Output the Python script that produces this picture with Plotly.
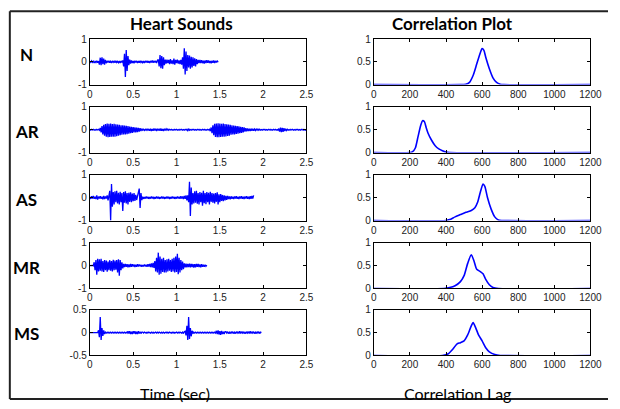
import plotly.graph_objects as go

W, H = 620, 409
DT = 0.01  # sample spacing (s) of the hand-read waveform values

row_labels = ["N", "AR", "AS", "MR", "MS"]

N_wave = [.01,-.03,.04,-.02,.03,-.05,.02,-.03,.05,-.04,.03,
          -.12,.18,-.15,.2,-.1,.14,-.12,.08,-.06,
          .04,-.03,.05,-.04,.02,-.05,.04,-.02,.03,-.04,.05,-.03,.02,-.04,.03,-.05,.04,-.03,.06,
          -.2,.35,-.67,.52,-.4,.25,-.15,
          .1,-.08,.06,-.05,.04,-.06,.05,-.03,.04,-.05,.03,-.04,.05,-.03,.02,-.04,.03,-.05,.04,-.03,
          .05,-.04,.03,-.05,.04,-.03,.06,-.04,.05,-.03,.04,-.05,.06,
          .1,-.2,.3,-.28,.25,-.3,.2,-.15,.1,
          -.08,.1,-.06,.08,-.1,.12,-.08,.06,-.1,.14,-.12,.08,-.06,.1,-.08,.06,-.1,.08,-.12,
          .2,-.3,.59,-.56,.45,-.4,.3,
          -.25,.28,-.3,.22,-.25,.2,-.18,.15,-.2,.12,-.1,.08,
          -.06,.08,-.05,.07,-.06,.05,-.08,.06,-.05,.07,-.04,.06,-.05,.04,-.06,.05,-.04,.06,-.05,.04,-.03,.05,-.02]

AR_wave = [.01,-.02,.02,-.01,.02,-.02,.01,-.02,.02,-.01,.02,-.02,
           .08,-.12,.16,-.2,.22,-.26,.25,
           -.3,.27,-.33,.26,-.32,.27,-.31,.25,-.3,.26,-.3,.24,-.28,.23,
           -.26,.22,-.24,.2,-.22,.2,-.21,.18,-.2,.17,-.19,.16,-.17,
           .14,-.15,.13,-.14,.12,-.12,.1,-.11,.09,-.1,.08,-.08,.07,-.06,.05,
           -.02,.02,-.03,.02,-.02,.03,-.02,.02,
           -.04,.04,-.05,.03,-.04,.05,-.03,.04,-.05,.04,-.03,.04,-.04,.05,-.04,.03,-.05,.04,-.03,.04,-.02,.03,
           -.02,.02,-.01,.02,-.02,.01,-.02,.02,-.01,.02,-.02,.01,-.02,.02,-.01,.02,-.02,.01,-.02,.02,
           -.01,.02,-.06,.05,-.02,.01,-.02,.02,-.01,.02,-.02,.01,-.02,.02,-.01,.02,-.02,.01,-.02,.02,
           -.01,.02,-.02,.01,-.02,.02,-.01,.02,
           -.06,.1,-.15,.2,-.24,.26,
           -.32,.27,-.33,.28,-.33,.27,-.32,.26,-.31,.27,-.3,.25,-.29,.24,-.27,.23,-.26,.22,
           -.22,.2,-.21,.18,-.2,.17,-.18,.16,-.17,.15,-.15,.13,-.14,.12,-.12,.1,
           -.08,.07,-.07,.06,-.06,.05,-.05,.05,-.04,.04,-.04,.03,-.03,.03,-.02,.03,-.02,
           .02,-.02,.01,-.02,.02,-.01,.02,-.02,.01,-.02,.02,-.01,.02,-.02,.01,-.02,.02,-.01,.02,-.02,.01,-.02,
           .05,-.08,.09,-.1,.08,-.09,.07,-.06,.04,-.03,
           .02,-.02,.01,-.02,.02,-.01,.02,-.02,.01,-.02,.02,-.01,.02,-.02,.01,-.02,.02,-.01,.02,-.02,.01,-.02,.01]

AS_wave = [.03,-.05,.06,-.04,.08,-.05,.04,-.06,.1,-.08,.05,-.04,.06,-.05,.04,-.07,.08,-.06,.05,-.04,.1,-.12,.08,
           .3,-1.0,.6,-.4,
           .25,-.3,.28,-.2,.3,-.25,.22,-.3,.26,-.2,.2,-.58,.25,-.22,.28,-.25,.2,-.3,.22,-.18,.24,-.2,.18,-.15,.2,-.14,.12,-.1,.08,
           .1,.4,-.45,.2,-.1,
           .04,-.05,.03,-.04,.05,-.03,.04,-.05,.03,-.04,.05,-.03,.04,-.06,.03,-.04,.05,-.03,.04,-.05,
           .03,-.04,.05,-.03,.04,-.05,.03,-.04,.05,-.03,.04,-.06,.03,-.04,.05,-.03,.04,-.05,.03,-.04,
           .05,-.03,.04,-.05,.06,-.04,.05,-.06,.08,-.05,.1,-.12,
           .1,-.2,.7,-.8,.45,-.3,.2,
           -.25,.28,-.22,.3,-.26,.2,-.3,.25,-.2,.22,-.35,.3,-.24,.2,-.28,.25,-.2,.22,-.3,.26,
           -.18,.2,-.22,.18,-.25,.2,-.18,.24,-.3,.15,-.2,.16,-.14,.12,-.15,.1,-.12,.08,-.1,
           .08,-.06,.05,-.07,.06,-.05,.04,-.06,.05,-.04,.06,-.05,.04,-.06,.05,-.04,.06,-.05,.04,-.06,
           .05,-.04,.06,-.05,.04,-.06,.07,-.05,.08,-.04,.1]

MR_wave = [0,.01,-.01,.01,-.01,
           .15,-.2,.25,-.4,.3,-.25,.28,-.22,.3,-.25,.2,-.28,.25,-.2,.22,-.26,.18,-.2,.24,-.22,
           .2,-.25,.26,-.2,.22,-.18,.25,-.3,.28,-.44,.25,-.2,.15,-.12,
           .08,-.06,.07,-.05,.06,-.07,.05,-.06,.07,-.05,.06,-.04,.05,-.06,.04,-.05,.06,-.04,
           .05,-.03,.04,-.05,.03,-.04,.05,-.03,.04,-.05,.06,-.04,.08,-.06,.1,-.08,.12,-.1,
           .2,-.25,.35,-.3,.57,-.4,.4,-.35,.3,-.28,.35,-.3,.25,-.3,.28,-.25,.3,-.22,.25,-.28,
           .3,-.25,.35,-.3,.4,-.28,.52,-.38,.35,-.3,.25,-.2,.18,-.15,
           .1,-.08,.09,-.07,.08,-.06,.09,-.07,.08,-.06,.07,-.08,.06,-.07,.08,-.05,.07,-.06,.05,-.07,
           .06,-.05,.04,-.05,.04,-.03,.02]

MS_wave = [0,0,0,0,0,0,0,0,0,0,
           .05,-.1,.34,-.16,.1,-.07,.05,-.03,
           .01,-.01,.01,-.01,.01,-.01,.01,-.01,.01,-.01,.01,-.01,.01,-.01,.01,-.01,.01,-.01,.01,-.01,.01,-.01,.01,-.01,.01,-.01,
           .03,-.02,.03,-.03,.02,-.03,.03,-.02,.03,-.03,.02,-.03,.03,-.02,.02,-.02,.01,
           .01,-.01,.01,0,-.01,.01,-.01,.01,0,-.01,.01,-.01,.01,-.01,0,.01,-.01,.01,-.01,.01,
           0,-.01,.01,-.01,.01,-.01,0,.01,-.01,.01,-.01,.01,0,-.01,.01,-.01,.01,-.01,0,.01,
           -.01,.01,-.01,.01,0,-.01,.01,-.02,.02,
           .03,-.06,.15,-.16,.34,-.14,.1,-.08,.04,-.02,
           .01,-.01,.01,-.01,.01,-.01,.01,-.01,.01,-.01,.01,-.01,.01,-.01,.01,-.01,.01,-.01,.01,-.01,.01,-.01,.01,-.01,.01,-.01,
           .04,-.03,.05,-.04,.03,-.05,.04,-.03,.02,-.03,.02,
           .02,-.01,.02,-.02,.01,-.02,.02,-.01,.02,-.02,.01,-.02,.02,-.01,.02,-.02,.03,-.02,.02,-.01,
           .02,-.02,.01,-.02,.02,-.01,.02,-.02,.03,-.02,.02,-.01,.02,-.02,.01,-.02,.02,-.01,.02,-.02,.01,0]

# correlation curves (lag, value)
N_lag  = [0, 480, 510, 530, 550, 570, 590, 600, 610, 620, 640, 660, 680, 700, 720, 1200]
N_corr = [0, 0, .01, .05, .2, .45, .7, .79, .75, .6, .35, .15, .05, .01, 0, 0]
AR_lag  = [0, 200, 215, 230, 245, 260, 270, 280, 290, 300, 320, 340, 360, 380, 400, 420, 1200]
AR_corr = [0, 0, .02, .1, .35, .6, .7, .68, .55, .43, .27, .15, .08, .04, .01, 0, 0]
AS_lag  = [0, 400, 420, 450, 480, 510, 540, 560, 575, 590, 605, 615, 630, 650, 670, 690, 710, 1200]
AS_corr = [0, 0, .02, .08, .13, .18, .22, .28, .4, .62, .8, .75, .5, .25, .08, .01, 0, 0]
MR_lag  = [0, 390, 420, 450, 480, 500, 520, 540, 555, 570, 590, 605, 620, 640, 660, 690, 1200]
MR_corr = [0, 0, .02, .06, .15, .28, .55, .74, .6, .42, .37, .32, .2, .08, .02, 0, 0]
MS_lag  = [0, 380, 410, 440, 460, 480, 500, 520, 540, 550, 565, 580, 600, 620, 640, 670, 700, 1200]
MS_corr = [0, 0, .03, .15, .25, .28, .32, .45, .65, .72, .6, .45, .32, .17, .08, .02, 0, 0]

waves = [N_wave, AR_wave, AS_wave, MR_wave, MS_wave]
lags = [N_lag, AR_lag, AS_lag, MR_lag, MS_lag]
corrs = [N_corr, AR_corr, AS_corr, MR_corr, MS_corr]

left_xticks = [0, 0.5, 1, 1.5, 2, 2.5]
right_xticks = [0, 200, 400, 600, 800, 1000, 1200]
left_yticks = [[-1, 0, 1]] * 4 + [[-0.5, 0, 0.5]]
left_yrange = [[-1, 1]] * 4 + [[-0.5, 0.5]]
right_yticks = [0, 0.5, 1]

row_tops = [34, 104, 174, 244, 313]
row_h = 47
left_px = (89, 311)
right_px = (380, 602)

BLUE = "#0000ff"
TICKFONT = dict(family="Liberation Sans, Arial", size=10, color="#222")

fig = go.Figure()
layout = {}


def axis_common():
    return dict(showline=True, linecolor="black", linewidth=1, mirror="ticks",
                ticks="inside", ticklen=3, tickcolor="black", showgrid=False,
                zeroline=False, tickfont=TICKFONT, fixedrange=True)


for r in range(5):
    top = row_tops[r]
    ydom = [1 - (top + row_h) / H, 1 - top / H]
    ia = 2 * r + 1
    ib = 2 * r + 2
    wave = waves[r]
    t = [i * DT for i in range(len(wave))]
    fig.add_trace(go.Scatter(x=t, y=wave, mode="lines",
                             line=dict(color=BLUE, width=1.3),
                             xaxis=f"x{ia}", yaxis=f"y{ia}", showlegend=False))
    fig.add_trace(go.Scatter(x=lags[r], y=corrs[r], mode="lines",
                             line=dict(color=BLUE, width=1.6, shape="spline", smoothing=0.6),
                             xaxis=f"x{ib}", yaxis=f"y{ib}", showlegend=False))
    xa = axis_common()
    xa.update(domain=[left_px[0] / W, left_px[1] / W], range=[0, 2.5],
              tickvals=left_xticks, ticktext=[f"{v:g}" for v in left_xticks],
              anchor=f"y{ia}")
    ya = axis_common()
    ya.update(domain=ydom, range=left_yrange[r], tickvals=left_yticks[r],
              ticktext=[f"{v:g}" for v in left_yticks[r]], anchor=f"x{ia}")
    xb = axis_common()
    xb.update(domain=[right_px[0] / W, right_px[1] / W], range=[0, 1200],
              tickvals=right_xticks, anchor=f"y{ib}")
    yb = axis_common()
    yb.update(domain=ydom, range=[0, 1], tickvals=right_yticks,
              ticktext=["0", "0.5", "1"], anchor=f"x{ib}")
    layout[f"xaxis{ia}"] = xa
    layout[f"yaxis{ia}"] = ya
    layout[f"xaxis{ib}"] = xb
    layout[f"yaxis{ib}"] = yb

label_y = [50, 129, 199, 269, 337]
label_x = [24, 25, 24, 24, 24]
ann = []
for lab, lx, ly in zip(row_labels, label_x, label_y):
    ann.append(dict(text=f"<b>{lab}</b>", x=lx / W, y=1 - ly / H, xref="paper", yref="paper",
                    showarrow=False, xanchor="center", yanchor="middle",
                    font=dict(family="Lato, Open Sans", size=17, color="black")))
ann.append(dict(text="<b>Heart Sounds</b>", x=183 / W, y=1 - 18 / H, xref="paper", yref="paper",
                showarrow=False, xanchor="center", yanchor="middle",
                font=dict(family="Lato, Open Sans", size=17, color="black")))
ann.append(dict(text="<b>Correlation Plot</b>", x=461 / W, y=1 - 18 / H, xref="paper", yref="paper",
                showarrow=False, xanchor="center", yanchor="middle",
                font=dict(family="Lato, Open Sans", size=17, color="black")))
ann.append(dict(text="Time (sec)", x=176 / W, y=1 - 399 / H, xref="paper", yref="paper",
                showarrow=False, xanchor="center", yanchor="middle",
                font=dict(family="Lato, Open Sans", size=16, color="black")))
ann.append(dict(text="Correlation Lag", x=466 / W, y=1 - 399 / H, xref="paper", yref="paper",
                showarrow=False, xanchor="center", yanchor="middle",
                font=dict(family="Lato, Open Sans", size=16, color="black")))

shapes = [
    dict(type="line", xref="paper", yref="paper", x0=7 / W, x1=1, y0=1 - 5.5 / H, y1=1 - 5.5 / H,
         line=dict(color="#222", width=2)),
    dict(type="line", xref="paper", yref="paper", x0=7 / W, x1=1, y0=1 - 405 / H, y1=1 - 405 / H,
         line=dict(color="#222", width=2)),
    dict(type="line", xref="paper", yref="paper", x0=7 / W, x1=7 / W, y0=1 - 405 / H, y1=1 - 5.5 / H,
         line=dict(color="#222", width=2)),
]

fig.update_layout(width=W, height=H, margin=dict(l=0, r=0, t=0, b=0),
                  paper_bgcolor="white", plot_bgcolor="white",
                  annotations=ann, shapes=shapes, **layout)

fig.write_html("out.html", config={"displayModeBar": False},
               post_script="document.body.style.margin='0';document.body.style.overflow='hidden';")
